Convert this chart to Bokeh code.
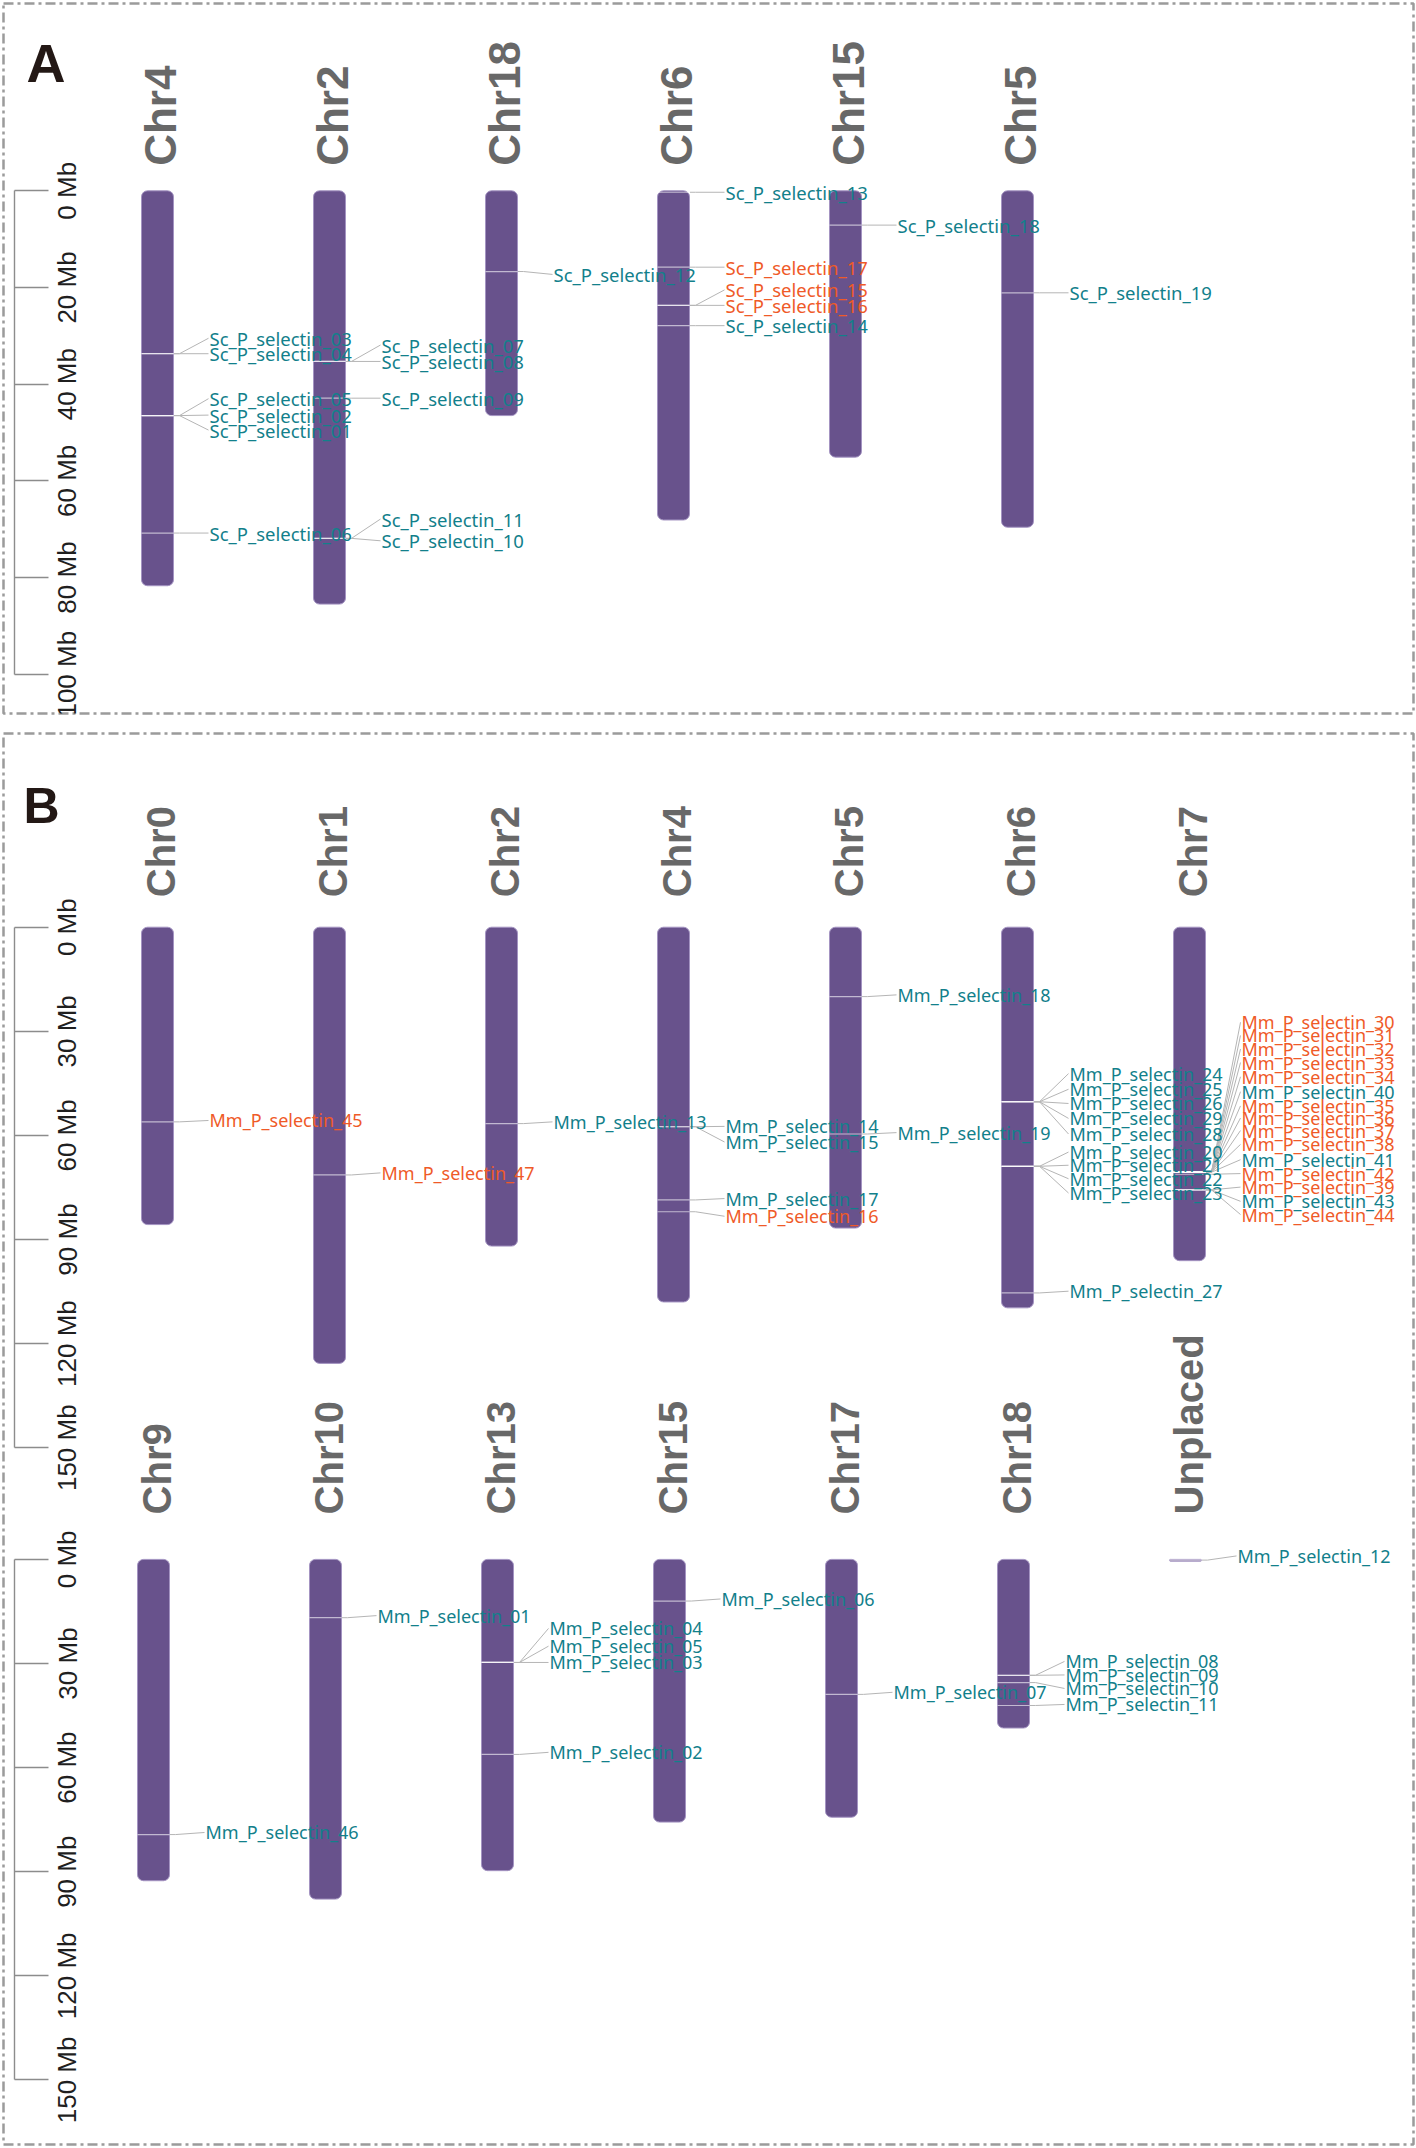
import math
from bokeh.plotting import figure
from bokeh.models import Range1d, LinearAxis, FixedTicker, ColumnDataSource
from bokeh.layouts import column
from bokeh.core.properties import value
from bokeh.embed import file_html
from bokeh.resources import INLINE

# ============================ DATA ============================
# ---- Panel A (Sc) ----
A_CHROMS = ["Chr4", "Chr2", "Chr18", "Chr6", "Chr15", "Chr5"]
A_CHROM_MB = [81.7, 85.5, 46.5, 68.1, 55.1, 69.6]
A_TICKS = [0, 20, 40, 60, 80, 100]
A_TICK_LABELS = ["0 Mb", "20 Mb", "40 Mb", "60 Mb", "80 Mb", "100 Mb"]

A_GENES = ["Sc_P_selectin_03", "Sc_P_selectin_04", "Sc_P_selectin_05", "Sc_P_selectin_02",
           "Sc_P_selectin_01", "Sc_P_selectin_06", "Sc_P_selectin_07", "Sc_P_selectin_08",
           "Sc_P_selectin_09", "Sc_P_selectin_11", "Sc_P_selectin_10", "Sc_P_selectin_12",
           "Sc_P_selectin_13", "Sc_P_selectin_17", "Sc_P_selectin_15", "Sc_P_selectin_16",
           "Sc_P_selectin_14", "Sc_P_selectin_18", "Sc_P_selectin_19"]
A_GENE_CHROM = ["Chr4"] * 6 + ["Chr2"] * 5 + ["Chr18"] + ["Chr6"] * 5 + ["Chr15", "Chr5"]
A_GENE_MB = [33.7, 33.7, 46.5, 46.5, 46.5, 70.8, 35.3, 35.3, 42.9, 71.9, 71.9, 16.7,
             0.3, 15.8, 23.7, 23.7, 27.9, 7.1, 21.1]
A_GENE_CLASS = ["t"] * 13 + ["o", "o", "o"] + ["t", "t", "t"]

# ---- Panel B (Mm) ----
B_TICKS = [0, 30, 60, 90, 120, 150]
B_TICK_LABELS = ["0 Mb", "30 Mb", "60 Mb", "90 Mb", "120 Mb", "150 Mb"]

B_TOP_CHROMS = ["Chr0", "Chr1", "Chr2", "Chr4", "Chr5", "Chr6", "Chr7"]
B_TOP_CHROM_MB = [85.7, 125.7, 91.9, 108.0, 86.7, 109.7, 96.1]
B_TOP_GENES = ["Mm_P_selectin_45", "Mm_P_selectin_47", "Mm_P_selectin_13",
               "Mm_P_selectin_14", "Mm_P_selectin_15", "Mm_P_selectin_17", "Mm_P_selectin_16",
               "Mm_P_selectin_18", "Mm_P_selectin_19",
               "Mm_P_selectin_24", "Mm_P_selectin_25", "Mm_P_selectin_26", "Mm_P_selectin_29",
               "Mm_P_selectin_28", "Mm_P_selectin_20", "Mm_P_selectin_21", "Mm_P_selectin_22",
               "Mm_P_selectin_23", "Mm_P_selectin_27",
               "Mm_P_selectin_30", "Mm_P_selectin_31", "Mm_P_selectin_32", "Mm_P_selectin_33",
               "Mm_P_selectin_34", "Mm_P_selectin_40", "Mm_P_selectin_35", "Mm_P_selectin_36",
               "Mm_P_selectin_37", "Mm_P_selectin_38", "Mm_P_selectin_41", "Mm_P_selectin_42",
               "Mm_P_selectin_39", "Mm_P_selectin_43", "Mm_P_selectin_44"]
B_TOP_GENE_CHROM = (["Chr0", "Chr1", "Chr2"] + ["Chr4"] * 4 + ["Chr5"] * 2 +
                    ["Chr6"] * 10 + ["Chr7"] * 15)
B_TOP_GENE_MB = [56.1, 71.4, 56.6,
                 57.5, 57.5, 78.6, 82.0,
                 20.0, 59.6,
                 50.3, 50.3, 50.3, 50.3, 50.3, 68.9, 68.9, 68.9, 68.9, 105.4,
                 70.6, 70.6, 70.6, 70.6, 70.6, 70.6, 70.6, 70.6, 70.6, 70.6, 70.6,
                 71.2, 75.7, 75.7, 75.7]
B_TOP_GENE_CLASS = (["o", "o", "t", "t", "t", "t", "o", "t", "t"] + ["t"] * 10 +
                    ["o", "o", "o", "o", "o", "t", "o", "o", "o", "o", "t", "o", "o", "t", "o"])

B_BOT_CHROMS = ["Chr9", "Chr10", "Chr13", "Chr15", "Chr17", "Chr18", "Unplaced"]
B_BOT_CHROM_MB = [92.6, 97.9, 89.7, 75.7, 74.3, 48.6, 0.5]
B_BOT_GENES = ["Mm_P_selectin_46", "Mm_P_selectin_01", "Mm_P_selectin_04", "Mm_P_selectin_05",
               "Mm_P_selectin_03", "Mm_P_selectin_02", "Mm_P_selectin_06", "Mm_P_selectin_07",
               "Mm_P_selectin_08", "Mm_P_selectin_09", "Mm_P_selectin_10", "Mm_P_selectin_11",
               "Mm_P_selectin_12"]
B_BOT_GENE_CHROM = ["Chr9", "Chr10", "Chr13", "Chr13", "Chr13", "Chr13", "Chr15", "Chr17",
                    "Chr18", "Chr18", "Chr18", "Chr18", "Unplaced"]
B_BOT_GENE_MB = [79.3, 16.8, 29.7, 29.7, 29.7, 56.2, 12.0, 38.9, 33.4, 33.4, 35.5, 42.1, 0.2]
B_BOT_GENE_CLASS = ["t"] * 13

# ================= LABEL LAYOUT (label slots, Mb) =================
A_LABEL_MB = [30.5, 33.7, 43.0, 46.4, 49.5, 70.8, 31.9, 35.3, 42.9, 67.9, 72.4, 17.3,
              0.3, 15.8, 20.5, 23.7, 27.9, 7.1, 21.1]
B_TOP_LABEL_MB = [55.7, 70.8, 56.1,
                  57.4, 61.9, 78.2, 83.3,
                  19.5, 59.2,
                  42.2, 46.7, 50.8, 55.1, 59.6, 64.8, 68.6, 72.5, 76.6, 104.9,
                  27.4, 31.2, 35.1, 39.0, 43.1, 47.4, 51.5, 55.0, 58.6, 62.6, 67.0,
                  71.0, 74.9, 79.0, 82.8]
B_BOT_LABEL_MB = [78.7, 16.2, 19.9, 25.0, 29.7, 55.6, 11.4, 38.3, 29.4, 33.3, 37.2, 41.8, -1.0]

# ============================ STYLE ============================
CLASS_COLOR = {"t": "#12808b", "o": "#ef5a28"}
CHROM_FILL = "#68528c"
CHROM_LINE = "#a494c2"
MARK_COLOR = "#ffffff"
LINK_COLOR = "#b5b5b5"
CHR_LABEL_COLOR = "#686868"
BORDER_COLOR = "#9b9b9b"
AXIS_COLOR = "#8c8c8c"

FIG_W = 1416
COL_PX = 172.0              # horizontal distance between chromosome columns (px)
FRAME_L, FRAME_R = 3, 1413  # page pixels of the dashed frames
CHROM_W_PX = 32.0
EDGE_PX = 16.5
FAN_PX = 22.0
LINE_END_PX = 51.0
LABEL_PX = 52.0
AXIS_PX = 14.0

A_TOP, A_FIG_H, A_FRAME_T, A_FRAME_B = 0, 723, 3, 713
A_COL0, A_Y0, A_PXMB = 157.0, 190.3, 4.834

B_TOP, B_FIG_H, B_FRAME_T, B_FRAME_B = 723, 1424, 733, 2144
B1_COL0, B1_Y0 = 157.0, 926.7
B2_COL0, B2_Y0 = 153.0, 1558.9
B_PXMB = 3.47


def xr(col0):
    return Range1d((FRAME_L - col0) / COL_PX, (FRAME_R - col0) / COL_PX)


def yr(y0, pxmb, top, bottom):
    return Range1d((bottom - y0) / pxmb, (top - y0) / pxmb)


def make_fig(fig_top, h, top, bottom, y0, pxmb, col0):
    p = figure(width=FIG_W, height=h, output_backend="svg", toolbar_location=None,
               x_range=xr(col0), y_range=yr(y0, pxmb, top, bottom),
               x_axis_location=None, y_axis_location=None,
               min_border_left=FRAME_L, min_border_right=FIG_W - FRAME_R,
               min_border_top=top - fig_top, min_border_bottom=fig_top + h - bottom)
    p.grid.visible = False
    p.background_fill_color = "white"
    p.border_fill_color = "white"
    p.outline_line_color = BORDER_COLOR
    p.outline_line_width = 2.5
    p.outline_line_dash = "10 4 3 4"
    return p


def add_axis(p, ticks, labels, col0, xname, yname):
    ax = LinearAxis(x_range_name=xname, y_range_name=yname,
                    fixed_location=(AXIS_PX - col0) / COL_PX,
                    bounds=(ticks[0], ticks[-1]),
                    ticker=FixedTicker(ticks=ticks),
                    major_label_overrides={t: l for t, l in zip(ticks, labels)},
                    major_tick_out=0, major_tick_in=34,
                    minor_tick_out=0, minor_tick_in=0,
                    major_label_orientation="parallel",
                    major_label_standoff=-68,
                    axis_line_color=AXIS_COLOR, axis_line_width=1.4,
                    major_tick_line_color=AXIS_COLOR, major_tick_line_width=1.4,
                    major_label_text_font="Liberation Sans",
                    major_label_text_font_size="26px",
                    major_label_text_color="#1f1f1f")
    p.add_layout(ax, "left")


def draw_row(p, chroms, lengths, genes, gchrom, gmb, gcls, lmb, pxmb,
             chr_gap_px, chr_font, gene_font, xname="default", yname="default"):
    cols = list(range(len(chroms)))
    rk = dict(x_range_name=xname, y_range_name=yname)
    cw = CHROM_W_PX / COL_PX
    # chromosomes
    p.vbar(x=cols, top=0, bottom=lengths, width=cw, fill_color=CHROM_FILL,
           line_color=CHROM_LINE, line_width=1, border_radius=6, **rk)
    # chromosome names
    p.text(x=cols, y=[-chr_gap_px / pxmb] * len(cols), text=chroms, angle=math.pi / 2,
           x_offset=3, text_align="left", text_baseline="middle",
           text_font=value("Liberation Sans"), text_font_style="bold",
           text_font_size=value(chr_font), text_color=CHR_LABEL_COLOR, **rk)
    gx = [chroms.index(c) for c in gchrom]
    # gene marks on chromosomes
    p.segment(x0=[c - cw / 2 for c in gx], x1=[c + cw / 2 for c in gx], y0=gmb, y1=gmb,
              line_color=MARK_COLOR, line_alpha=0.6, line_width=1.2, **rk)
    # connectors
    xs = [[c + EDGE_PX / COL_PX, c + FAN_PX / COL_PX, c + LINE_END_PX / COL_PX] for c in gx]
    ys = [[g, g, l] for g, l in zip(gmb, lmb)]
    p.multi_line(xs=xs, ys=ys, line_color=LINK_COLOR, line_width=1, **rk)
    # gene labels
    src = ColumnDataSource(dict(x=gx, y=lmb, name=genes, color=[CLASS_COLOR[c] for c in gcls]))
    p.text(x="x", y="y", text="name", source=src, x_offset=LABEL_PX,
           text_color="color", text_align="left", text_baseline="middle",
           text_font=value("Noto Sans"), text_font_size=value(gene_font), **rk)


# ---------------- Panel A ----------------
pA = make_fig(A_TOP, A_FIG_H, A_FRAME_T, A_FRAME_B, A_Y0, A_PXMB, A_COL0)
add_axis(pA, A_TICKS, A_TICK_LABELS, A_COL0, "default", "default")
draw_row(pA, A_CHROMS, A_CHROM_MB, A_GENES, A_GENE_CHROM, A_GENE_MB, A_GENE_CLASS,
         A_LABEL_MB, A_PXMB, 25, "44px", "18.5px")
pA.text(x=[(26 - A_COL0) / COL_PX], y=[(62 - A_Y0) / A_PXMB], text=["A"],
        text_align="left", text_baseline="alphabetic", text_font=value("Liberation Sans"),
        text_font_style="bold", text_font_size=value("54px"), text_color="#231815")

# ---------------- Panel B ----------------
pB = make_fig(B_TOP, B_FIG_H, B_FRAME_T, B_FRAME_B, B1_Y0, B_PXMB, B1_COL0)
pB.extra_x_ranges = {"r2x": xr(B2_COL0)}
pB.extra_y_ranges = {"r2": yr(B2_Y0, B_PXMB, B_FRAME_T, B_FRAME_B)}
add_axis(pB, B_TICKS, B_TICK_LABELS, B1_COL0, "default", "default")
add_axis(pB, B_TICKS, B_TICK_LABELS, B2_COL0, "r2x", "r2")
draw_row(pB, B_TOP_CHROMS, B_TOP_CHROM_MB, B_TOP_GENES, B_TOP_GENE_CHROM, B_TOP_GENE_MB,
         B_TOP_GENE_CLASS, B_TOP_LABEL_MB, B_PXMB, 30, "40px", "18px")
draw_row(pB, B_BOT_CHROMS, B_BOT_CHROM_MB, B_BOT_GENES, B_BOT_GENE_CHROM, B_BOT_GENE_MB,
         B_BOT_GENE_CLASS, B_BOT_LABEL_MB, B_PXMB, 45, "40px", "18px", "r2x", "r2")
pB.text(x=[(23 - B1_COL0) / COL_PX], y=[(805 - B1_Y0) / B_PXMB], text=["B"],
        text_align="left", text_baseline="alphabetic", text_font=value("Liberation Sans"),
        text_font_style="bold", text_font_size=value("50px"), text_color="#231815")

layout = column(pA, pB)
open("out.html", "w").write(file_html(layout, INLINE))
